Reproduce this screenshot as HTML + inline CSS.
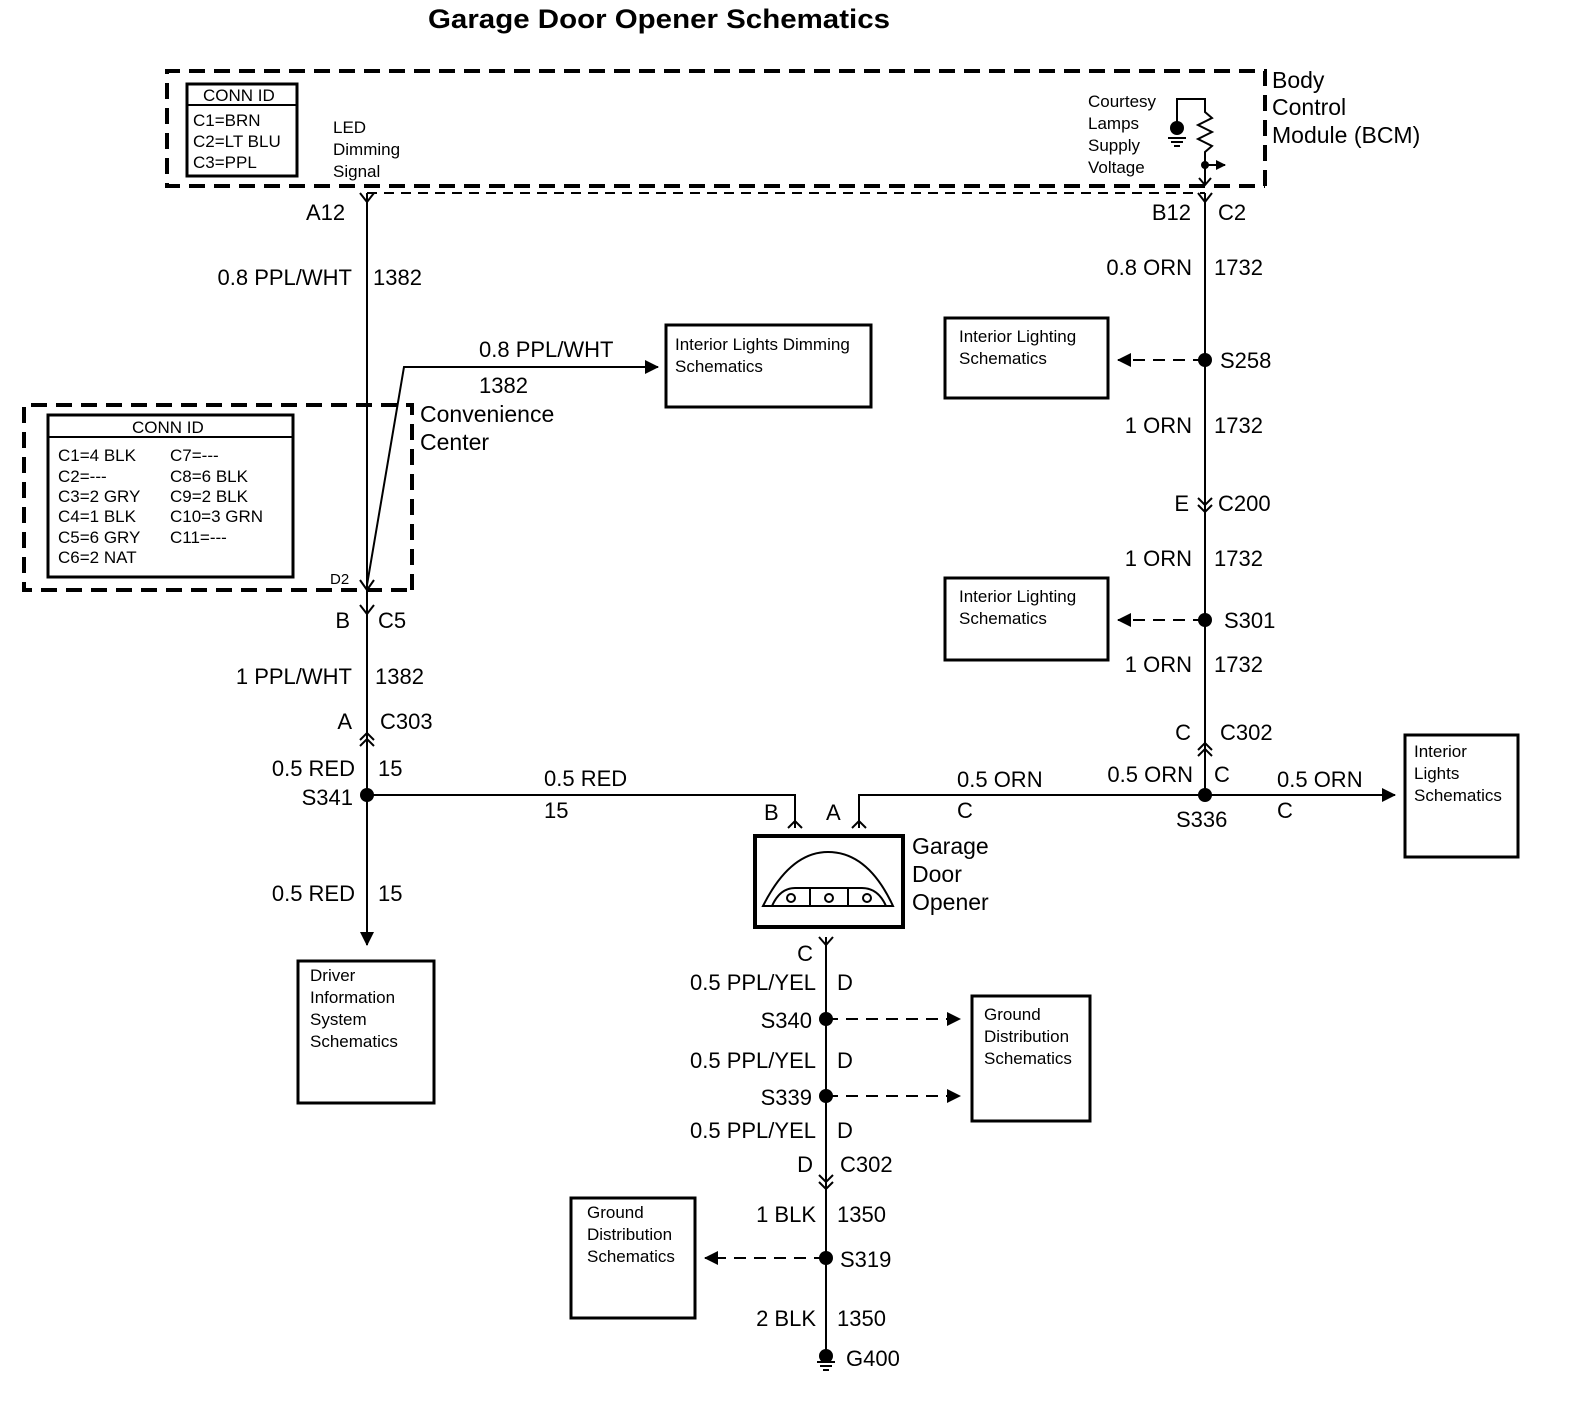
<!DOCTYPE html>
<html><head><style>body{margin:0;background:#fff}svg{display:block}text{font-family:"Liberation Sans",Arial,sans-serif;fill:#000}</style></head><body>
<svg width="1570" height="1408" viewBox="0 0 1570 1408" xmlns="http://www.w3.org/2000/svg">
<defs>
<marker id="ar" markerWidth="10" markerHeight="10" refX="9" refY="5" orient="auto" markerUnits="userSpaceOnUse" viewBox="0 0 10 10"><path d="M0,0 L10,5 L0,10 z" fill="#000"/></marker>
<marker id="ar2" markerWidth="14" markerHeight="14" refX="13" refY="7" orient="auto" markerUnits="userSpaceOnUse" viewBox="0 0 14 14"><path d="M0,0 L14,7 L0,14 z" fill="#000"/></marker>
</defs>
<g font-weight="bold">
<text x="428" y="28" font-size="27" textLength="462" lengthAdjust="spacingAndGlyphs">Garage Door Opener Schematics</text>
</g>
<g fill="none" stroke="#000">
<path d="M1265,186 V71 H167 V186 H1265" stroke-width="4" stroke-dasharray="16,9"/>
<line x1="367" y1="193" x2="1205" y2="193" stroke-width="2" stroke-dasharray="10,7"/>
<rect x="187" y="84" width="110" height="92" stroke-width="3"/>
<line x1="187" y1="105" x2="297" y2="105" stroke-width="2"/>
<path d="M1177,125 V99 H1205 V112 L1212,118 L1198,125 L1212,132 L1198,139 L1212,146 L1205,152 V185" stroke-width="2"/>
<path d="M1205,165 H1225" stroke-width="2" marker-end="url(#ar)"/>
<path d="M1168,138 H1186 M1171,142 H1183 M1174,146 H1180" stroke-width="2"/>
<path d="M1199,178 L1205,185 L1211,178" stroke-width="2"/>
<path d="M412,590 V405 H24 V590 H412" stroke-width="4" stroke-dasharray="16,9"/>
<rect x="48" y="415" width="245" height="162" stroke-width="3"/>
<line x1="48" y1="437" x2="293" y2="437" stroke-width="2"/>
<line x1="367" y1="193" x2="367" y2="945" stroke-width="2" marker-end="url(#ar2)"/>
<path d="M360,193 L367,202 L374,193" stroke-width="2"/>
<path d="M367,585 L404,367 H658" stroke-width="2" marker-end="url(#ar2)"/>
<path d="M360,580 L367,590 L374,580" stroke-width="2"/>
<path d="M360,605 L367,614 L374,605" stroke-width="2"/>
<path d="M360,740 L367,733 L374,740 M360,746 L367,739 L374,746" stroke-width="2"/>
<rect x="666" y="325" width="205" height="82" stroke-width="3"/>
<rect x="298" y="961" width="136" height="142" stroke-width="3"/>
<path d="M367,795 H795 V828" stroke-width="2"/>
<path d="M788,828 L795,821 L802,828" stroke-width="2"/>
<path d="M859,828 V795 H1395" stroke-width="2" marker-end="url(#ar2)"/>
<path d="M852,828 L859,821 L866,828" stroke-width="2"/>
<line x1="1205" y1="193" x2="1205" y2="795" stroke-width="2"/>
<path d="M1198,193 L1205,202 L1212,193" stroke-width="2"/>
<path d="M1198,505 L1205,512 L1212,505 M1198,498 L1205,505 L1212,498" stroke-width="2"/>
<path d="M1198,750 L1205,743 L1212,750 M1198,756 L1205,749 L1212,756" stroke-width="2"/>
<line x1="1205" y1="360" x2="1118" y2="360" stroke-width="2" stroke-dasharray="12,8" marker-end="url(#ar2)"/>
<line x1="1205" y1="620" x2="1118" y2="620" stroke-width="2" stroke-dasharray="12,8" marker-end="url(#ar2)"/>
<rect x="945" y="318" width="163" height="80" stroke-width="3"/>
<rect x="945" y="578" width="163" height="82" stroke-width="3"/>
<rect x="1405" y="735" width="113" height="122" stroke-width="3"/>
<rect x="755" y="836" width="148" height="91" stroke-width="4"/>
<path d="M763,906 Q790,852 828,852 Q868,852 893,906 Z" stroke-width="2"/>
<path d="M772,906 Q780,888 795,888 H862 Q878,888 886,906" stroke-width="2"/>
<path d="M810,888 V906 M848,888 V906" stroke-width="2"/>
<circle cx="791" cy="898" r="4" stroke-width="2"/><circle cx="829" cy="898" r="4" stroke-width="2"/><circle cx="867" cy="898" r="4" stroke-width="2"/>
<line x1="826" y1="937" x2="826" y2="1352" stroke-width="2"/>
<path d="M819,937 L826,945 L833,937" stroke-width="2"/>
<path d="M819,1175 L826,1182 L833,1175 M819,1182 L826,1189 L833,1182" stroke-width="2"/>
<line x1="826" y1="1019" x2="960" y2="1019" stroke-width="2" stroke-dasharray="12,8" marker-end="url(#ar2)"/>
<line x1="826" y1="1096" x2="960" y2="1096" stroke-width="2" stroke-dasharray="12,8" marker-end="url(#ar2)"/>
<line x1="826" y1="1258" x2="705" y2="1258" stroke-width="2" stroke-dasharray="12,8" marker-end="url(#ar2)"/>
<rect x="972" y="996" width="118" height="125" stroke-width="3"/>
<rect x="571" y="1198" width="124" height="120" stroke-width="3"/>
<path d="M817,1362 H835 M820,1366 H832 M823,1370 H829" stroke-width="2"/>
</g>
<g fill="#000">
<circle cx="1177" cy="128" r="7"/>
<circle cx="1205" cy="165" r="4"/>
<circle cx="367" cy="795" r="7"/><circle cx="1205" cy="795" r="7"/>
<circle cx="1205" cy="360" r="7"/><circle cx="1205" cy="620" r="7"/>
<circle cx="826" cy="1019" r="7"/><circle cx="826" cy="1096" r="7"/><circle cx="826" cy="1258" r="7"/>
<circle cx="826" cy="1356" r="7"/>
</g>
<g font-size="17">
<text x="203" y="101">CONN ID</text>
<text x="193" y="126">C1=BRN</text><text x="193" y="147">C2=LT BLU</text><text x="193" y="168">C3=PPL</text>
<text x="333" y="133">LED</text><text x="333" y="155">Dimming</text><text x="333" y="177">Signal</text>
<text x="1088" y="107">Courtesy</text><text x="1088" y="129">Lamps</text><text x="1088" y="151">Supply</text><text x="1088" y="173">Voltage</text>
<text x="132" y="433">CONN ID</text>
<text x="58" y="461">C1=4 BLK</text><text x="58" y="482">C2=---</text><text x="58" y="502">C3=2 GRY</text><text x="58" y="522">C4=1 BLK</text><text x="58" y="543">C5=6 GRY</text><text x="58" y="563">C6=2 NAT</text>
<text x="170" y="461">C7=---</text><text x="170" y="482">C8=6 BLK</text><text x="170" y="502">C9=2 BLK</text><text x="170" y="522">C10=3 GRN</text><text x="170" y="543">C11=---</text>
<text x="330" y="584" font-size="15">D2</text>
<text x="675" y="350">Interior Lights Dimming</text><text x="675" y="372">Schematics</text>
<text x="959" y="342">Interior Lighting</text><text x="959" y="364">Schematics</text>
<text x="959" y="602">Interior Lighting</text><text x="959" y="624">Schematics</text>
<text x="1414" y="757">Interior</text><text x="1414" y="779">Lights</text><text x="1414" y="801">Schematics</text>
<text x="310" y="981">Driver</text><text x="310" y="1003">Information</text><text x="310" y="1025">System</text><text x="310" y="1047">Schematics</text>
<text x="984" y="1020">Ground</text><text x="984" y="1042">Distribution</text><text x="984" y="1064">Schematics</text>
<text x="587" y="1218">Ground</text><text x="587" y="1240">Distribution</text><text x="587" y="1262">Schematics</text>
</g>
<g font-size="23">
<text x="1272" y="88">Body</text><text x="1272" y="115">Control</text><text x="1272" y="143">Module (BCM)</text>
<text x="420" y="422">Convenience</text><text x="420" y="450">Center</text>
<text x="912" y="854">Garage</text><text x="912" y="882">Door</text><text x="912" y="910">Opener</text>
</g>
<g font-size="22">
<text x="306" y="220">A12</text>
<text x="352" y="285" text-anchor="end">0.8 PPL/WHT</text><text x="373" y="285">1382</text>
<text x="479" y="357">0.8 PPL/WHT</text><text x="479" y="393">1382</text>
<text x="350" y="628" text-anchor="end">B</text><text x="378" y="628">C5</text>
<text x="352" y="684" text-anchor="end">1 PPL/WHT</text><text x="375" y="684">1382</text>
<text x="352" y="729" text-anchor="end">A</text><text x="380" y="729">C303</text>
<text x="355" y="776" text-anchor="end">0.5 RED</text><text x="378" y="776">15</text>
<text x="353" y="805" text-anchor="end">S341</text>
<text x="544" y="786">0.5 RED</text><text x="544" y="818">15</text>
<text x="355" y="901" text-anchor="end">0.5 RED</text><text x="378" y="901">15</text>
<text x="764" y="820">B</text><text x="826" y="820">A</text>
<text x="957" y="787">0.5 ORN</text><text x="957" y="818">C</text>
<text x="1193" y="782" text-anchor="end">0.5 ORN</text><text x="1214" y="782">C</text>
<text x="1277" y="787">0.5 ORN</text><text x="1277" y="818">C</text>
<text x="1176" y="827">S336</text>
<text x="1191" y="220" text-anchor="end">B12</text><text x="1218" y="220">C2</text>
<text x="1192" y="275" text-anchor="end">0.8 ORN</text><text x="1214" y="275">1732</text>
<text x="1220" y="368">S258</text>
<text x="1192" y="433" text-anchor="end">1 ORN</text><text x="1214" y="433">1732</text>
<text x="1189" y="511" text-anchor="end">E</text><text x="1218" y="511">C200</text>
<text x="1192" y="566" text-anchor="end">1 ORN</text><text x="1214" y="566">1732</text>
<text x="1224" y="628">S301</text>
<text x="1192" y="672" text-anchor="end">1 ORN</text><text x="1214" y="672">1732</text>
<text x="1191" y="740" text-anchor="end">C</text><text x="1220" y="740">C302</text>
<text x="813" y="961" text-anchor="end">C</text>
<text x="816" y="990" text-anchor="end">0.5 PPL/YEL</text><text x="837" y="990">D</text>
<text x="812" y="1028" text-anchor="end">S340</text>
<text x="816" y="1068" text-anchor="end">0.5 PPL/YEL</text><text x="837" y="1068">D</text>
<text x="812" y="1105" text-anchor="end">S339</text>
<text x="816" y="1138" text-anchor="end">0.5 PPL/YEL</text><text x="837" y="1138">D</text>
<text x="813" y="1172" text-anchor="end">D</text><text x="840" y="1172">C302</text>
<text x="816" y="1222" text-anchor="end">1 BLK</text><text x="837" y="1222">1350</text>
<text x="840" y="1267">S319</text>
<text x="816" y="1326" text-anchor="end">2 BLK</text><text x="837" y="1326">1350</text>
<text x="846" y="1366">G400</text>
</g>
</svg>
</body></html>
